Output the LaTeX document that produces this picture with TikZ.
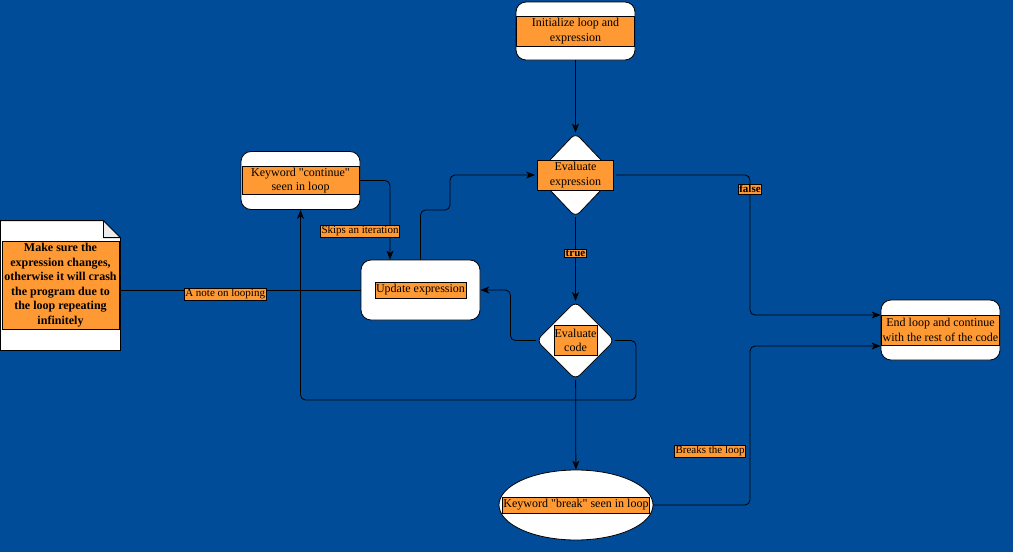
\documentclass[tikz,border=0pt]{standalone}
\usepackage{fontspec}
\setmainfont{Liberation Serif}
\usetikzlibrary{arrows.meta,positioning,shapes.geometric}
\definecolor{bgblue}{RGB}{0,76,153}
\definecolor{lblorange}{RGB}{255,153,51}
\definecolor{foldgrey}{RGB}{236,236,236}
\newcommand{\dq}{\textquotedbl}

\begin{document}
\begin{tikzpicture}[x=1pt, y=-1pt, line width=0.8pt,
  box/.style={draw, fill=white, rounded corners=10pt, minimum width=119pt, minimum height=58pt, inner sep=0pt},
  diam/.style={diamond, draw, fill=white, rounded corners=6pt, inner sep=0pt},
  txt/.style={draw, fill=lblorange, align=center, inner sep=1pt, sharp corners, font=\fontsize{12}{14.5}\selectfont},
  elbl/.style={draw, fill=lblorange, inner sep=1pt, sharp corners, font=\fontsize{11}{13}\selectfont},
  arr/.style={-{Stealth[length=9pt, width=7pt, inset=2.5pt]}, rounded corners=5pt},
  plain/.style={rounded corners=5pt},
]

  \fill[bgblue] (0,0) rectangle (1013,552);
  \useasboundingbox (0,0) rectangle (1013,552);

  % shapes
  \node[box] (init) at (575.5,31) {};
  \node[txt, minimum width=118pt, minimum height=30pt] (init-t) at (init) {Initialize loop and\\expression};

  \node[diam, minimum width=80pt, minimum height=84pt] (evx) at (575.5,175) {};
  \node[txt, minimum width=76pt, minimum height=30pt] (evx-t) at (evx) {Evaluate\\expression};

  \node[box] (cont) at (300.5,180.5) {};
  \node[txt, minimum width=117pt, minimum height=28pt] (cont-t) at (cont) {Keyword \dq continue\dq\\seen in loop};

  \node[box, minimum height=60pt] (upd) at (420.5,290) {};
  \node[txt, minimum height=16pt] (upd-t) at (upd) {Update expression};

  \node[diam, minimum width=78pt, minimum height=78pt] (evc) at (575.5,340.5) {};
  \node[txt, inner sep=0.5pt, minimum height=30pt] (evc-t) at (evc) {Evaluate\\code};

  \node[box, minimum height=60pt] (endl) at (940.5,330) {};
  \node[txt, minimum width=118pt, minimum height=30pt] (endl-t) at (endl) {End loop and continue\\with the rest of the code};

  \node[ellipse, draw, fill=white, minimum width=154pt, minimum height=70pt, inner sep=0pt] (brk) at (576,505) {};
  \node[txt, minimum height=16pt] (brk-t) at (brk) {Keyword \dq break\dq{} seen in loop};

  % note with folded corner
  \node[minimum width=119pt, minimum height=129pt, inner sep=0pt] (note) at (60.5,285.5) {};
  \draw[fill=white] (note.north west) -- ([xshift=-17pt]note.north east) -- ([yshift=-17pt]note.north east)
    -- (note.south east) -- (note.south west) -- cycle;
  \draw[fill=foldgrey, line join=round] ([xshift=-17pt]note.north east) -- ([xshift=-17pt, yshift=-17pt]note.north east)
    -- ([yshift=-17pt]note.north east) -- cycle;
  \node[txt, minimum width=117pt, minimum height=88pt, font=\fontsize{12}{14.5}\selectfont\bfseries] (note-t) at (60.5,285)
    {Make sure the\\expression changes,\\otherwise it will crash\\the program due to\\the loop repeating\\infinitely};

  % connectors
  \draw[arr] (init) -- (evx);
  \draw[arr] (evx.east) -- (750,175) -- node[elbl, pos=0.1, font=\fontsize{11}{13}\selectfont\bfseries]{false} (750,315)
    -- ([yshift=15pt]endl.west);
  \draw[arr] (evx) -- node[elbl, pos=0.43, font=\fontsize{11}{13}\selectfont\bfseries]{true} (evc);
  \draw[arr] (evc.west) -| ([xshift=30pt]upd.east) -- (upd.east);
  \draw[arr] (evc.east) -| (636,400) -| (cont.south);
  \draw[arr] (cont.east) -| node[elbl, pos=0.82, xshift=-30pt]{Skips an iteration} ([xshift=-30.5pt]upd.north);
  \draw[arr] (upd.north) |- (450,210) |- (evx.west);
  \draw[plain] (upd.west) -- node[elbl, pos=0.564, yshift=-4pt]{A note on looping} (upd.west -| note.east);
  \draw[arr] (evc) -- (brk);
  \draw[arr] (brk.east) -| node[elbl, pos=0.67, anchor=east, xshift=-4pt]{Breaks the loop} (750,346)
    -- ([yshift=-16pt]endl.west);

\end{tikzpicture}
\end{document}
